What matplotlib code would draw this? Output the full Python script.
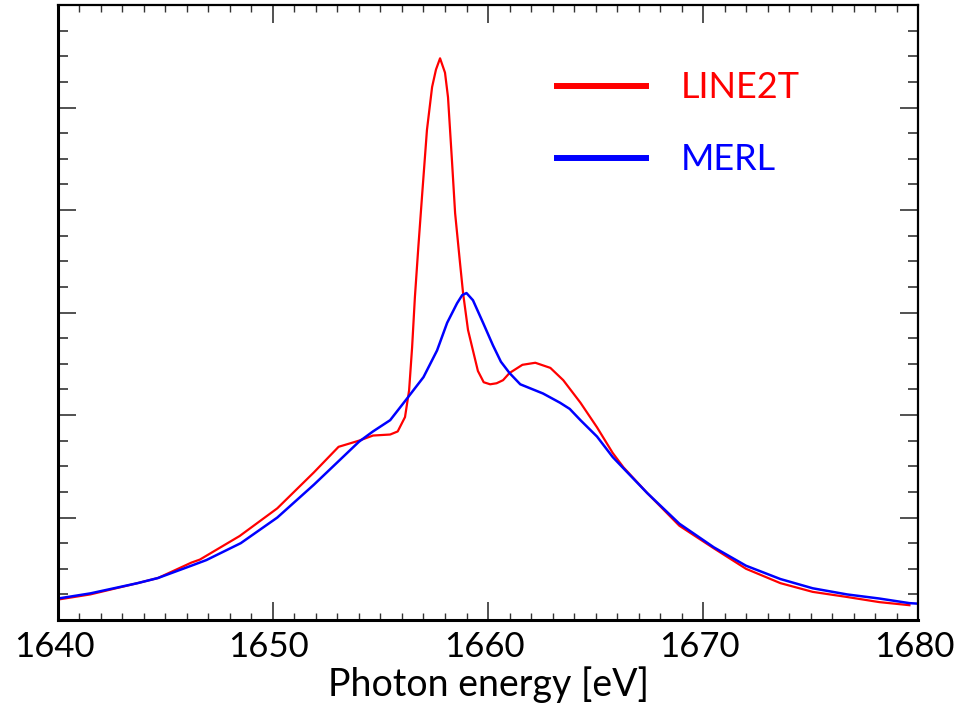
import matplotlib.pyplot as plt
import matplotlib.transforms as mtransforms
from matplotlib.ticker import MultipleLocator, NullFormatter

plt.rcParams['font.family'] = ['Lato', 'DejaVu Sans']

# LINE2T spectrum (arbitrary units)
line2t_e = [1640.0, 1641.5, 1643.7, 1644.65, 1646.2, 1646.6, 1648.45, 1650.2, 1651.9,
            1653.05, 1654.0, 1654.65, 1655.45, 1655.8, 1656.14, 1656.33, 1656.47,
            1656.6, 1656.76, 1656.93, 1657.16, 1657.4, 1657.58, 1657.77, 1658.0,
            1658.14, 1658.33, 1658.47, 1658.7, 1658.84, 1659.07, 1659.3, 1659.53,
            1659.8, 1660.1, 1660.4, 1660.7, 1661.0, 1661.6, 1662.2, 1662.9, 1663.5,
            1664.3, 1665.07, 1665.8, 1666.3, 1667.4, 1668.9, 1670.5, 1672.0, 1673.6,
            1675.1, 1676.7, 1678.2, 1679.6]
line2t_i = [0.20, 0.25, 0.36, 0.41, 0.56, 0.59, 0.82, 1.09, 1.44,
            1.69, 1.75, 1.80, 1.81, 1.84, 1.98, 2.24, 2.66,
            3.15, 3.64, 4.13, 4.78, 5.20, 5.37, 5.48, 5.34,
            5.10, 4.46, 3.97, 3.48, 3.19, 2.83, 2.63, 2.43,
            2.32, 2.30, 2.31, 2.34, 2.41, 2.49, 2.51, 2.46, 2.34,
            2.12, 1.88, 1.63, 1.49, 1.24, 0.92, 0.70, 0.50, 0.36,
            0.275, 0.225, 0.175, 0.145]

# MERL spectrum
merl_e = [1640.0, 1641.5, 1643.7, 1644.65, 1646.2, 1646.9, 1648.5, 1650.2, 1651.9,
          1653.1, 1654.0, 1654.65, 1655.45, 1656.23, 1657.0, 1657.63, 1658.1,
          1658.56, 1658.8, 1659.0, 1659.3, 1659.77, 1660.23, 1660.6, 1661.0,
          1661.5, 1662.56, 1663.35, 1663.8, 1664.3, 1665.07, 1665.8, 1666.3,
          1667.4, 1668.9, 1670.5, 1672.0, 1673.6, 1675.1, 1676.7, 1678.2,
          1679.6, 1680.0]
merl_i = [0.21, 0.26, 0.36, 0.41, 0.53, 0.585, 0.75, 1.00, 1.32,
          1.56, 1.74, 1.84, 1.95, 2.16, 2.37, 2.63, 2.90,
          3.09, 3.17, 3.19, 3.12, 2.90, 2.68, 2.52, 2.41,
          2.30, 2.21, 2.12, 2.06, 1.95, 1.79, 1.59, 1.48,
          1.24, 0.94, 0.71, 0.53, 0.40, 0.31, 0.25, 0.21,
          0.165, 0.16]

fig = plt.figure(figsize=(9.55, 7.16), dpi=100)
ax = fig.add_axes([0.0607, 0.134, 0.9006, 0.859])

l1, = ax.plot(line2t_e, line2t_i, color='#ff0000', lw=1.6, label='LINE2T',
              solid_joinstyle='round')
l2, = ax.plot(merl_e, merl_i, color='#0000ff', lw=1.8, label='MERL',
              solid_joinstyle='round')

ax.set_xlim(1640, 1680)
ax.set_ylim(0, 6)
ax.xaxis.set_major_locator(MultipleLocator(10))
ax.xaxis.set_minor_locator(MultipleLocator(1))
ax.yaxis.set_major_locator(MultipleLocator(1))
ax.yaxis.set_minor_locator(MultipleLocator(0.25))
ax.yaxis.set_major_formatter(NullFormatter())
ax.tick_params(which='both', direction='in', top=True, right=True, color='#333333')
ax.tick_params(axis='both', which='major', length=13, width=1.2)
ax.tick_params(axis='y', which='minor', length=7, width=1.2)
ax.tick_params(axis='x', which='minor', length=5, width=1.0)
ax.tick_params(axis='x', which='major', labelsize=25, pad=8)
for s in ax.spines.values():
    s.set_linewidth(1.6)
ax.spines['left'].set_linewidth(2.2)
ax.spines['bottom'].set_linewidth(2.2)

# labels sit slightly left of their ticks in the original
shift = mtransforms.ScaledTranslation(-4 / 100, 0, fig.dpi_scale_trans)
for lab in ax.get_xticklabels():
    lab.set_transform(lab.get_transform() + shift)

ax.set_xlabel('Photon energy [eV]', fontsize=27, labelpad=2)

leg = ax.legend(handles=[l1, l2], loc='upper left', bbox_to_anchor=(0.542, 0.945),
                frameon=False, fontsize=26, handlelength=2.47, handletextpad=0.97,
                labelspacing=1.08, labelcolor='linecolor')
for ln in leg.get_lines():
    ln.set_linewidth(4.3)

fig.savefig('out.png', dpi=100)
